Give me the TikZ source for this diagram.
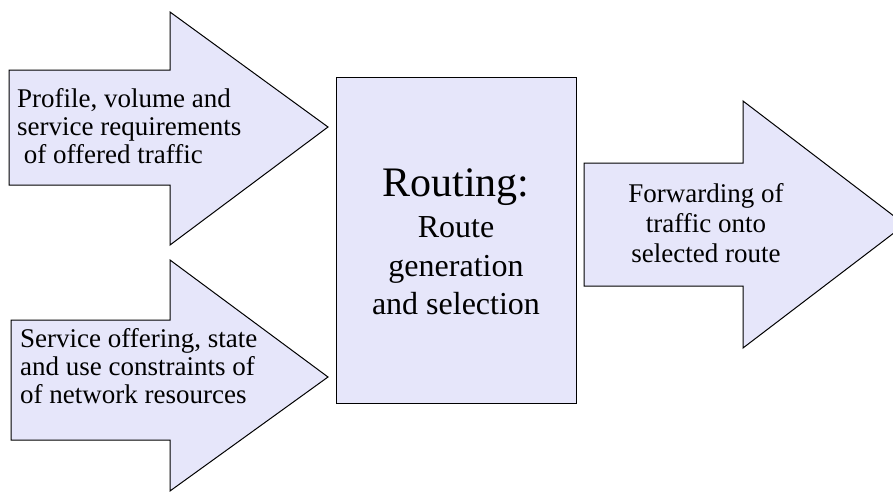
\documentclass[tikz,border=0pt]{standalone}
\usepackage{fontspec}
\setmainfont{Liberation Serif}
\usepackage{tikz}
\usetikzlibrary{positioning, calc}
\definecolor{lavender}{RGB}{230,230,250}
\tikzset{
	bigarrow/.style={draw=black, line width=1pt, fill=lavender, line join=miter},
	routebox/.style={draw=black, line width=1pt, fill=lavender, minimum width=240pt, minimum height=326pt, inner sep=0pt},
	arrowtext/.style={inner sep=0pt, font=\fontsize{27}{28}\selectfont},
	boxtext/.style={inner sep=0pt, align=center, font=\fontsize{32}{38.5}\selectfont}
}

\begin{document}
\begin{tikzpicture}[x=1pt, y=-1pt]
		\useasboundingbox (0,0) rectangle (893,495);
		% incoming arrows
		\draw[bigarrow] (9,70) -- (170,70) -- (170,12) -- (328,127) -- (170,245) -- (170,185) -- (9,185) -- cycle;
		\draw[bigarrow] (11,320) -- (170,320) -- (170,260) -- (328,377) -- (170,491) -- (170,440) -- (11,440) -- cycle;
		% outgoing arrow
		\draw[bigarrow] (584,163) -- (743,163) -- (743,101) -- (905,224.5) -- (743,348) -- (743,286) -- (584,286) -- cycle;
		% routing box
		\node[routebox] (routing) at (456,240) {};
		\node[anchor=base, inner sep=0pt, font=\fontsize{42}{42}\selectfont] (routetitle) at ($(routing.north)+(0,120)$) {Routing:};
		\node[boxtext, anchor=base] (routesub) at ($(routing.north)+(0,238)$) {Route\\generation\\and selection};
		% texts (base = last line)
		\node[arrowtext, align=left, anchor=base west] (traffictext) at (17,163) {Profile, volume and\\service requirements\\\ of offered traffic};
		\node[arrowtext, align=left, anchor=base west] (resourcetext) at (20,403) {Service offering, state\\and use constraints of\\of network resources};
		\node[arrowtext, align=center, anchor=base, font=\fontsize{27}{30}\selectfont] (forwardtext) at (706,262) {Forwarding of\\traffic onto\\selected route};
	\end{tikzpicture}
\end{document}
